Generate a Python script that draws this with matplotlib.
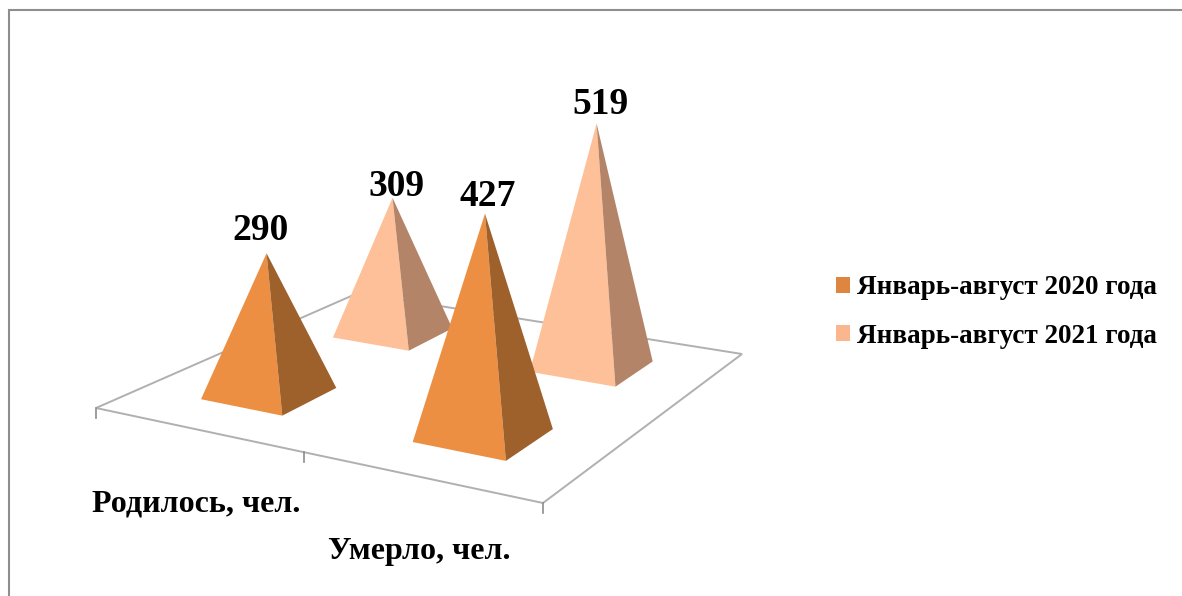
import matplotlib.pyplot as plt
import numpy as np
from matplotlib.patches import Patch, Polygon

plt.rcParams['font.family'] = ['Liberation Serif', 'DejaVu Serif']
plt.rcParams['font.weight'] = 'bold'

# Data
categories = ['Родилось, чел.', 'Умерло, чел.']
series_names = ['Январь-август 2020 года', 'Январь-август 2021 года']
values_2020 = [290, 427]
values_2021 = [309, 519]

# Colours: legend swatch, lit face, shaded face
swatch_colors = ['#DE853F', '#FBB58F']
face_colors = ['#EC8F42', '#FEC098']
side_colors = ['#9F612B', '#B38468']

# Floor corners in pixels: front-left, front-right, back-right, back-left
ax_x0, ax_y0 = 96, 408
ax_x1, ax_y1 = 543, 503
ax_x2, ax_y2 = 742, 354
ax_x3, ax_y3 = 358, 293

# Square-to-quad homography for the floor
dx1, dx2 = ax_x1 - ax_x2, ax_x3 - ax_x2
dy1, dy2 = ax_y1 - ax_y2, ax_y3 - ax_y2
sx = ax_x0 - ax_x1 + ax_x2 - ax_x3
sy = ax_y0 - ax_y1 + ax_y2 - ax_y3
det = dx1 * dy2 - dx2 * dy1
g = (sx * dy2 - dx2 * sy) / det
h = (dx1 * sy - sx * dy1) / det
P = np.array([
    [ax_x1 - ax_x0 + g * ax_x1, ax_x3 - ax_x0 + h * ax_x3, -0.0258, ax_x0],
    [ax_y1 - ax_y0 + g * ax_y1, ax_y3 - ax_y0 + h * ax_y3, -0.511, ax_y0],
    [g, h, -6e-5, 1.0],
])


def project(u, v, z=0):
    p = P @ np.array([u, v, z, 1.0])
    return p[0] / p[2], p[1] / p[2]


fig = plt.figure(figsize=(11.82, 5.96), dpi=100)
ax = fig.add_axes([0, 0, 1, 1])
ax.set_xlim(0, 1182)
ax.set_ylim(596, 0)
ax.axis('off')

# Picture frame (top and left only are inside the crop)
ax.plot([9, 9, 1182], [596, 10, 10], color='#8E8E8E', lw=1.5, solid_joinstyle='miter')

# Floor outline and tick marks
floor = [project(0, 0), project(1, 0), project(1, 1), project(0, 1)]
ax.add_patch(Polygon(floor, closed=True, fill=False, edgecolor='#B0B0B0', lw=1.4, zorder=1))
for u in [0, 0.5, 1]:
    tx, ty = project(u, 0)
    ax.plot([tx, tx], [ty, ty + 10], color='#8C8C8C', lw=1.2, zorder=1)

# Pyramids, back row first
half = 0.1
cat_pos = [0.25, 0.75]
ser_pos = [0.25, 0.75]
zorder = 2
for s, vals in reversed(list(enumerate([values_2020, values_2021]))):
    for c, val in enumerate(vals):
        u, v = cat_pos[c], ser_pos[s]
        apex = project(u, v, val)
        a = project(u - half, v - half)
        b = project(u + half, v - half)
        d = project(u + half, v + half)
        ax.add_patch(Polygon([a, b, apex], closed=True, facecolor=face_colors[s], edgecolor='none', zorder=zorder))
        ax.add_patch(Polygon([b, d, apex], closed=True, facecolor=side_colors[s], edgecolor='none', zorder=zorder))
        zorder += 1

# Value labels, offsets from the apex in pixels
label_offsets = {(0, 0): (-6, -23), (0, 1): (3, -17), (1, 0): (4, -11), (1, 1): (4, -19)}
for s, vals in enumerate([values_2020, values_2021]):
    for c, val in enumerate(vals):
        ox, oy = label_offsets[(s, c)]
        px, py = project(cat_pos[c], ser_pos[s], val)
        ax.text(px + ox, py + oy, str(val), fontsize=27, ha='center', va='center', color='black', zorder=20)

# Category labels
ax.text(196, 504, categories[0], fontsize=23, ha='center', va='center', color='black')
ax.text(419, 551, categories[1], fontsize=23, ha='center', va='center', color='black')

# Legend
handles = [Patch(facecolor=swatch_colors[i], edgecolor='none', label=series_names[i]) for i in range(2)]
ax.legend(handles=handles, loc='center left', bbox_to_anchor=(836 / 1182, 1 - 312 / 596),
          frameon=False, fontsize=19.5, handlelength=0.52, handleheight=0.52,
          handletextpad=0.26, labelspacing=0.87, borderpad=0, borderaxespad=0)

plt.savefig('out.png', dpi=100)
